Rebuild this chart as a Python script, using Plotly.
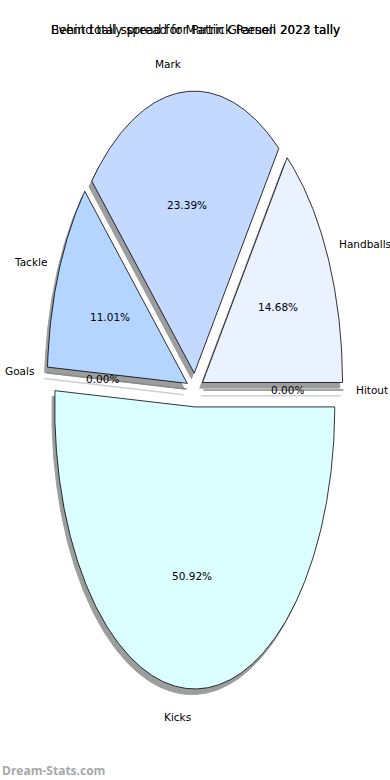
import numpy as np
import plotly.graph_objects as go

labels = ["Hitout", "Handballs", "Mark", "Tackle", "Goals", "Kicks"]
values = [0, 32, 51, 24, 0, 111]
colors = ["#E6EEFF", "#EAF1FF", "#C4D9FF", "#B3D5FF", "#A9CCFF", "#DBFFFF"]
titles = ["Behind tally spread for Patrick Parnell 2022 tally",
          "Event total spread for Martin Gleeson 2023 tally"]

explode = 0.06
shadow_off = (-0.02, -0.02)
label_dist = 1.1
pct_dist = 0.6

W, H = 390, 780
RXPX, RYPX = 140, 282
CX, CY = 195, 390   # pie centre in figure pixels
x_range = [-CX / RXPX, (W - CX) / RXPX]
y_range = [-(H - CY) / RYPX, CY / RYPX]

fig = go.Figure()
total = sum(values)
start = 0.0
wedges = []
for lab, v, c in zip(labels, values, colors):
    ang = v / total * 360.0
    t1, t2 = start, start + ang
    mid = np.deg2rad((t1 + t2) / 2)
    cx, cy = explode * np.cos(mid), explode * np.sin(mid)
    n = max(2, int(ang * 2))
    th = np.deg2rad(np.linspace(t1, t2, n))
    xs = np.concatenate([[cx], cx + np.cos(th), [cx]])
    ys = np.concatenate([[cy], cy + np.sin(th), [cy]])
    wedges.append((lab, v, c, xs, ys, mid, cx, cy))
    start = t2

# shadows
for lab, v, c, xs, ys, mid, cx, cy in wedges:
    if v == 0:
        fig.add_trace(go.Scatter(x=xs + shadow_off[0], y=ys + shadow_off[1], mode="lines",
                                 line=dict(color="#D0D0D0", width=1.5), hoverinfo="skip", showlegend=False))
    else:
        fig.add_trace(go.Scatter(x=xs + shadow_off[0], y=ys + shadow_off[1], mode="lines", fill="toself",
                                 fillcolor="#9C9E9E", line=dict(color="#9C9E9E", width=1),
                                 hoverinfo="skip", showlegend=False))
# wedges
for lab, v, c, xs, ys, mid, cx, cy in wedges:
    if v == 0:
        fig.add_trace(go.Scatter(x=xs, y=ys, mode="lines", line=dict(color="#8A8A8A", width=1.5),
                                 hoverinfo="skip", showlegend=False))
    else:
        fig.add_trace(go.Scatter(x=xs, y=ys, mode="lines", fill="toself", fillcolor=c,
                                 line=dict(color="black", width=0.8), name=lab, showlegend=False))

ann = []
for lab, v, c, xs, ys, mid, cx, cy in wedges:
    lx = cx + label_dist * np.cos(mid)
    ly = cy + label_dist * np.sin(mid)
    right = lx > 0
    ann.append(dict(x=lx, y=ly, xref="x", yref="y", text=lab, showarrow=False,
                    xanchor="left" if right else "right", yanchor="middle",
                    xshift=-2 if right else 2, borderpad=0,
                    font=dict(size=10.5, color="black")))
    px = cx + pct_dist * np.cos(mid)
    py = cy + pct_dist * np.sin(mid)
    ann.append(dict(x=px, y=py, xref="x", yref="y", text=f"{v / total * 100:.2f}%", showarrow=False,
                    xanchor="center", yanchor="middle", font=dict(size=10.5, color="black")))

for t in titles:
    ann.append(dict(x=0.5, y=1 - 30 / H, xref="paper", yref="paper", text=t,
                    showarrow=False, xanchor="center", yanchor="middle",
                    font=dict(size=12, color="black")))
ann.append(dict(x=0, y=1 - 770 / H, xref="paper", yref="paper",
                text="<b>Dream-Stats.com</b>", showarrow=False, xanchor="left", yanchor="middle",
                font=dict(size=12, color="#A8A8A8", family="Open Sans")))

fig.update_layout(
    width=W, height=H, margin=dict(l=0, r=0, t=0, b=0),
    paper_bgcolor="white", plot_bgcolor="white",
    font=dict(family="DejaVu Sans"),
    xaxis=dict(range=x_range, visible=False, fixedrange=True),
    yaxis=dict(range=y_range, visible=False, fixedrange=True),
    annotations=ann,
)
fig.write_html("out.html", config={"displayModeBar": False},
               post_script="document.body.style.margin='0';")
